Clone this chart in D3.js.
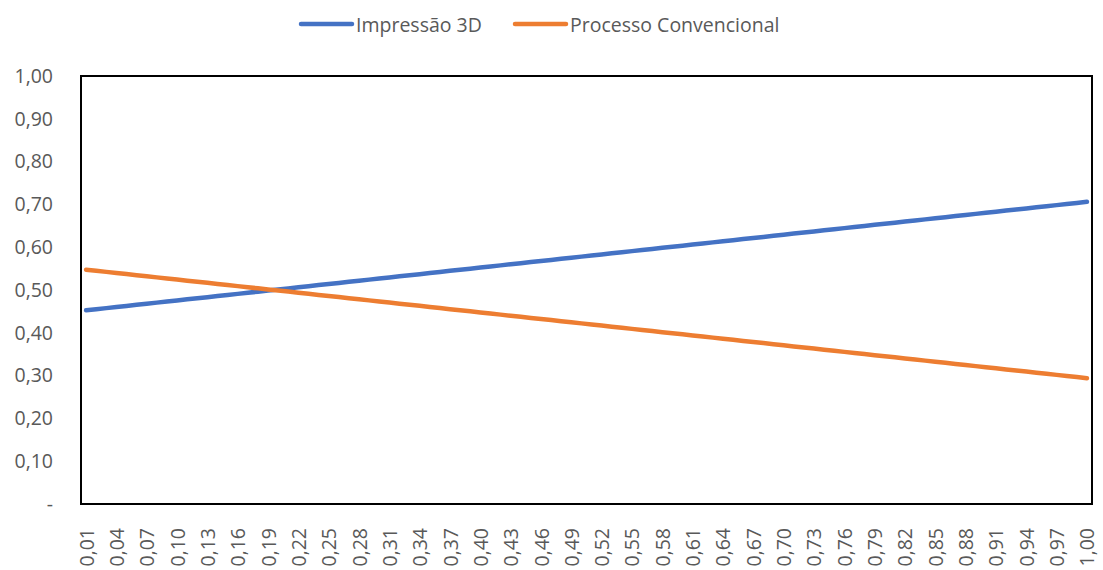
<!DOCTYPE html>
<html>
<head>
<meta charset="utf-8">
<script src="https://cdn.jsdelivr.net/npm/d3@7"></script>
<style>
    body { margin: 0; background: #fff; }
    svg { display: block; font-family: "Open Sans", "Liberation Sans", sans-serif; }
    .tick-label { fill: #595959; font-size: 19.5px; }
    .legend-label { fill: #595959; font-size: 19.5px; }
</style>
</head>
<body>
<svg id="chart" width="1103" height="570"></svg>
<script>
// Categories (x axis)
const categories = [
    '0,01','0,02','0,03','0,04','0,05','0,06','0,07','0,08','0,09','0,10',
    '0,11','0,12','0,13','0,14','0,15','0,16','0,17','0,18','0,19','0,20',
    '0,21','0,22','0,23','0,24','0,25','0,26','0,27','0,28','0,29','0,30',
    '0,31','0,32','0,33','0,34','0,35','0,36','0,37','0,38','0,39','0,40',
    '0,41','0,42','0,43','0,44','0,45','0,46','0,47','0,48','0,49','0,50',
    '0,51','0,52','0,53','0,54','0,55','0,56','0,57','0,58','0,59','0,60',
    '0,61','0,62','0,63','0,64','0,65','0,66','0,67','0,68','0,69','0,70',
    '0,71','0,72','0,73','0,74','0,75','0,76','0,77','0,78','0,79','0,80',
    '0,81','0,82','0,83','0,84','0,85','0,86','0,87','0,88','0,89','0,90',
    '0,91','0,92','0,93','0,94','0,95','0,96','0,97','0,98','0,99','1,00'
];

const impressao3D = [
    0.45256, 0.45512, 0.45768, 0.46024, 0.4628, 0.46536, 0.46792, 0.47048, 0.47304, 0.4756,
    0.47816, 0.48072, 0.48328, 0.48584, 0.4884, 0.49096, 0.49352, 0.49608, 0.49864, 0.5012,
    0.50376, 0.50632, 0.50888, 0.51144, 0.514, 0.51656, 0.51912, 0.52168, 0.52424, 0.5268,
    0.52936, 0.53192, 0.53448, 0.53704, 0.5396, 0.54216, 0.54472, 0.54728, 0.54984, 0.5524,
    0.55496, 0.55752, 0.56008, 0.56264, 0.5652, 0.56776, 0.57032, 0.57288, 0.57544, 0.578,
    0.58056, 0.58312, 0.58568, 0.58824, 0.5908, 0.59336, 0.59592, 0.59848, 0.60104, 0.6036,
    0.60616, 0.60872, 0.61128, 0.61384, 0.6164, 0.61896, 0.62152, 0.62408, 0.62664, 0.6292,
    0.63176, 0.63432, 0.63688, 0.63944, 0.642, 0.64456, 0.64712, 0.64968, 0.65224, 0.6548,
    0.65736, 0.65992, 0.66248, 0.66504, 0.6676, 0.67016, 0.67272, 0.67528, 0.67784, 0.6804,
    0.68296, 0.68552, 0.68808, 0.69064, 0.6932, 0.69576, 0.69832, 0.70088, 0.70344, 0.706
];

const processoConvencional = [
    0.54744, 0.54488, 0.54232, 0.53976, 0.5372, 0.53464, 0.53208, 0.52952, 0.52696, 0.5244,
    0.52184, 0.51928, 0.51672, 0.51416, 0.5116, 0.50904, 0.50648, 0.50392, 0.50136, 0.4988,
    0.49624, 0.49368, 0.49112, 0.48856, 0.486, 0.48344, 0.48088, 0.47832, 0.47576, 0.4732,
    0.47064, 0.46808, 0.46552, 0.46296, 0.4604, 0.45784, 0.45528, 0.45272, 0.45016, 0.4476,
    0.44504, 0.44248, 0.43992, 0.43736, 0.4348, 0.43224, 0.42968, 0.42712, 0.42456, 0.422,
    0.41944, 0.41688, 0.41432, 0.41176, 0.4092, 0.40664, 0.40408, 0.40152, 0.39896, 0.3964,
    0.39384, 0.39128, 0.38872, 0.38616, 0.3836, 0.38104, 0.37848, 0.37592, 0.37336, 0.3708,
    0.36824, 0.36568, 0.36312, 0.36056, 0.358, 0.35544, 0.35288, 0.35032, 0.34776, 0.3452,
    0.34264, 0.34008, 0.33752, 0.33496, 0.3324, 0.32984, 0.32728, 0.32472, 0.32216, 0.3196,
    0.31704, 0.31448, 0.31192, 0.30936, 0.3068, 0.30424, 0.30168, 0.29912, 0.29656, 0.294
];

const yTicks = [0, 0.1, 0.2, 0.3, 0.4, 0.5, 0.6, 0.7, 0.8, 0.9, 1.0];

const seriesList = [
    { name: 'Impressão 3D', values: impressao3D, color: '#4472C4' },
    { name: 'Processo Convencional', values: processoConvencional, color: '#ED7D31' }
];

const margin = { top: 76, right: 11, bottom: 66, left: 81 };
const width = 1103, height = 570;

const svg = d3.select('#chart');

const x = d3.scaleBand()
    .domain(categories)
    .range([margin.left, width - margin.right]);

const y = d3.scaleLinear()
    .domain([0, 1])
    .range([height - margin.bottom, margin.top]);

const fmt = v => v === 0 ? '-' : d3.format('.2f')(v).replace('.', ',');

// Y axis labels
const yAxis = svg.append('g')
    .attr('transform', `translate(${margin.left - 28},0)`)
    .call(d3.axisLeft(y).tickValues(yTicks).tickFormat(fmt).tickSize(0).tickPadding(0));
yAxis.select('.domain').remove();
yAxis.attr('font-family', null).attr('font-size', null);
yAxis.selectAll('text').attr('class', 'tick-label').attr('fill', null);

// X axis labels (every 3rd category)
const xTickValues = categories.filter((c, i) => i % 3 === 0);
const xAxis = svg.append('g')
    .attr('transform', `translate(0,${height - margin.bottom})`)
    .call(d3.axisBottom(x).tickValues(xTickValues).tickSize(0).tickPadding(0));
xAxis.select('.domain').remove();
xAxis.attr('font-family', null).attr('font-size', null);
xAxis.selectAll('text')
    .attr('class', 'tick-label')
    .attr('fill', null)
    .attr('y', 0)
    .attr('dy', null)
    .attr('text-anchor', 'end')
    .attr('dominant-baseline', 'central')
    .attr('transform', 'translate(0,24) rotate(-90)');

// Plot border
svg.append('rect')
    .attr('x', margin.left)
    .attr('y', margin.top)
    .attr('width', width - margin.left - margin.right)
    .attr('height', height - margin.top - margin.bottom)
    .attr('fill', 'none')
    .attr('stroke', '#000')
    .attr('stroke-width', 2);

// Lines
const line = d3.line()
    .x((d, i) => x(categories[i]) + x.bandwidth() / 2)
    .y(d => y(d));

svg.append('g')
    .selectAll('path')
    .data(seriesList)
    .join('path')
    .attr('d', d => line(d.values))
    .attr('fill', 'none')
    .attr('stroke', d => d.color)
    .attr('stroke-width', 4.5)
    .attr('stroke-linecap', 'round')
    .attr('stroke-linejoin', 'round');

// Legend
const legendPos = [301, 515];
const legend = svg.append('g')
    .selectAll('g')
    .data(seriesList)
    .join('g')
    .attr('transform', (d, i) => `translate(${legendPos[i]},24)`);

legend.append('line')
    .attr('x1', 0).attr('x2', 51)
    .attr('stroke', d => d.color)
    .attr('stroke-width', 4.5)
    .attr('stroke-linecap', 'round');

legend.append('text')
    .attr('class', 'legend-label')
    .attr('x', 55)
    .attr('dominant-baseline', 'central')
    .text(d => d.name);
</script>
</body>
</html>
